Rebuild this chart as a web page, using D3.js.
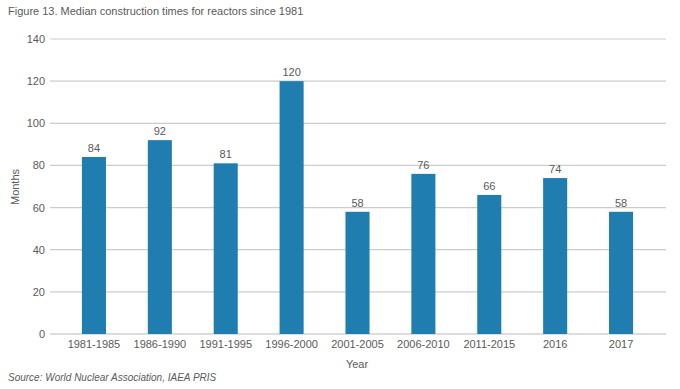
<!DOCTYPE html>
<html>
<head>
<meta charset="utf-8">
<script src="https://d3js.org/d3.v7.min.js"></script>
<style>
  body { margin: 0; background: #fff; }
  text { font-family: "Liberation Sans", Arial, sans-serif; fill: #5a5a5a; }
</style>
</head>
<body>
<script>
const periods = ["1981-1985", "1986-1990", "1991-1995", "1996-2000", "2001-2005", "2006-2010", "2011-2015", "2016", "2017"];
const months = [84, 92, 81, 120, 58, 76, 66, 74, 58];
const yTicks = [0, 20, 40, 60, 80, 100, 120, 140];

const width = 680, height = 389;

const svg = d3.select("body").append("svg")
  .attr("width", width)
  .attr("height", height);

const x = d3.scaleBand()
  .domain(periods)
  .range([61, 654])
  .paddingInner(0.635)
  .paddingOuter(0.3175);

const y = d3.scaleLinear()
  .domain([0, 140])
  .range([334, 39]);

// title
svg.append("text")
  .attr("x", 8).attr("y", 15)
  .attr("font-size", 11)
  .text("Figure 13. Median construction times for reactors since 1981");

// grid lines
svg.append("g").selectAll("line")
  .data(yTicks)
  .join("line")
  .attr("x1", 50).attr("x2", 666)
  .attr("y1", d => y(d)).attr("y2", d => y(d))
  .attr("stroke", d => d === 0 ? "#bbb" : "#ccc")
  .attr("stroke-width", 1.2);

// y tick labels
svg.append("g").selectAll("text")
  .data(yTicks)
  .join("text")
  .attr("x", 45)
  .attr("y", d => y(d) + 4)
  .attr("text-anchor", "end")
  .attr("font-size", 11)
  .text(d => d);

// bars
svg.append("g").selectAll("rect")
  .data(months)
  .join("rect")
  .attr("x", (d, i) => x(periods[i]))
  .attr("width", x.bandwidth())
  .attr("y", d => y(d))
  .attr("height", d => y(0) - y(d))
  .attr("fill", "#1f7db0");

// value labels
svg.append("g").selectAll("text")
  .data(months)
  .join("text")
  .attr("x", (d, i) => x(periods[i]) + x.bandwidth() / 2)
  .attr("y", d => y(d) - 5)
  .attr("text-anchor", "middle")
  .attr("font-size", 11)
  .text(d => d);

// x category labels
svg.append("g").selectAll("text")
  .data(periods)
  .join("text")
  .attr("x", d => x(d) + x.bandwidth() / 2)
  .attr("y", 348)
  .attr("text-anchor", "middle")
  .attr("font-size", 11)
  .text(d => d);

// axis titles
svg.append("text")
  .attr("x", 357).attr("y", 368)
  .attr("text-anchor", "middle")
  .attr("font-size", 11)
  .text("Year");

svg.append("text")
  .attr("transform", "translate(19,187) rotate(-90)")
  .attr("text-anchor", "middle")
  .attr("font-size", 11)
  .text("Months");

// source
svg.append("text")
  .attr("x", 8).attr("y", 381)
  .attr("font-size", 10)
  .attr("font-style", "italic")
  .text("Source: World Nuclear Association, IAEA PRIS");
</script>
</body>
</html>
